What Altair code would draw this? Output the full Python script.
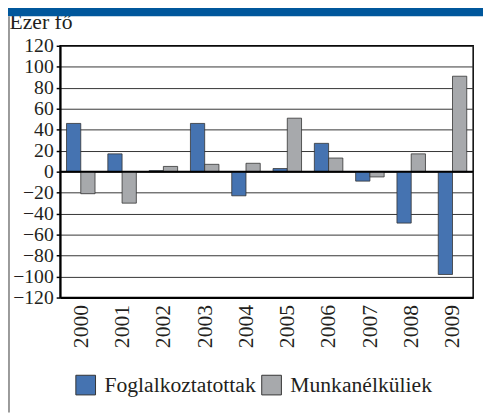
import altair as alt
import pandas as pd

years = ["2000", "2001", "2002", "2003", "2004", "2005", "2006", "2007", "2008", "2009"]
employed = [46, 17, 1, 46, -23, 3, 27, -9, -49, -98]
unemployed = [-21, -30, 5, 7, 8, 51, 13, -5, 17, 91]
series = ["Foglalkoztatottak", "Munkanélküliek"]
colors = ["#4573b1", "#a7a9ac"]
y_ticks = list(range(-120, 121, 20))

rows = []
for i, yr in enumerate(years):
    rows.append({"year": yr, "series": series[0], "value": employed[i]})
    rows.append({"year": yr, "series": series[1], "value": unemployed[i]})
df = pd.DataFrame(rows)

FONT = "'Liberation Serif', 'Times New Roman', serif"
TXT = "#231f20"

y_scale = alt.Scale(domain=[-120, 120], nice=False)
y_axis = alt.Axis(values=y_ticks, title="Ezer fő", titleAngle=0,
                  titleX=-52, titleY=-18, titleAlign="left",
                  titleBaseline="alphabetic", titleFont=FONT, titleFontSize=22,
                  titleFontWeight="normal", titleColor=TXT,
                  labelFont=FONT, labelFontSize=20, labelColor=TXT,
                  labelOverlap=False, labelBound=False,
                  grid=True, gridColor="#333333", gridWidth=1,
                  tickSize=4, tickColor="black", tickWidth=1.5,
                  labelPadding=3, domainColor="black", domainWidth=2)

bars = alt.Chart(df).mark_bar(stroke="#333333", strokeWidth=0.8).encode(
    x=alt.X("year:N", sort=years,
            scale=alt.Scale(paddingInner=0.31, paddingOuter=0.155),
            axis=alt.Axis(title=None, labelAngle=-90, ticks=False, labelPadding=7,
                          labelFont=FONT, labelFontSize=22, labelColor=TXT,
                          labelOverlap=False,
                          domainColor="black", domainWidth=2, grid=False)),
    xOffset=alt.XOffset("series:N", sort=series),
    y=alt.Y("value:Q", scale=y_scale, axis=y_axis),
    color=alt.Color("series:N", sort=series,
                    scale=alt.Scale(domain=series, range=colors),
                    legend=alt.Legend(title=None, orient="none", direction="horizontal",
                                      legendX=15, legendY=334, symbolType="square",
                                      symbolSize=400, symbolStrokeColor="#333333",
                                      symbolStrokeWidth=1, symbolOpacity=1,
                                      labelFont=FONT, labelFontSize=22, labelColor=TXT,
                                      labelOffset=8, columnPadding=4, padding=0)),
)

one = alt.Data(values=[{}])

zero = alt.Chart(one).mark_rule(color="black", strokeWidth=2).encode(
    y=alt.YDatum(0, scale=y_scale, axis=y_axis))

band = alt.Chart(one).mark_rule(color="#00579c", strokeWidth=10).encode(
    x=alt.value(-53), x2=alt.value(430), y=alt.value(-35))

side = alt.Chart(one).mark_rule(color="#9a9a9a", strokeWidth=2).encode(
    x=alt.value(-52), y=alt.value(-30), y2=alt.value(373))

chart = alt.layer(bars, zero, band, side).properties(
    width=420, height=256,
    autosize=alt.AutoSizeParams(type="none"),
    padding={"left": 53, "top": 35, "right": 10, "bottom": 117},
).configure_view(stroke="black", strokeWidth=1.5).configure_axis(
    labelFont=FONT, labelColor=TXT,
    titleFont=FONT, titleColor=TXT, titleFontWeight="normal"
)

chart.save("out.html", embed_options={"renderer": "svg", "actions": False})
